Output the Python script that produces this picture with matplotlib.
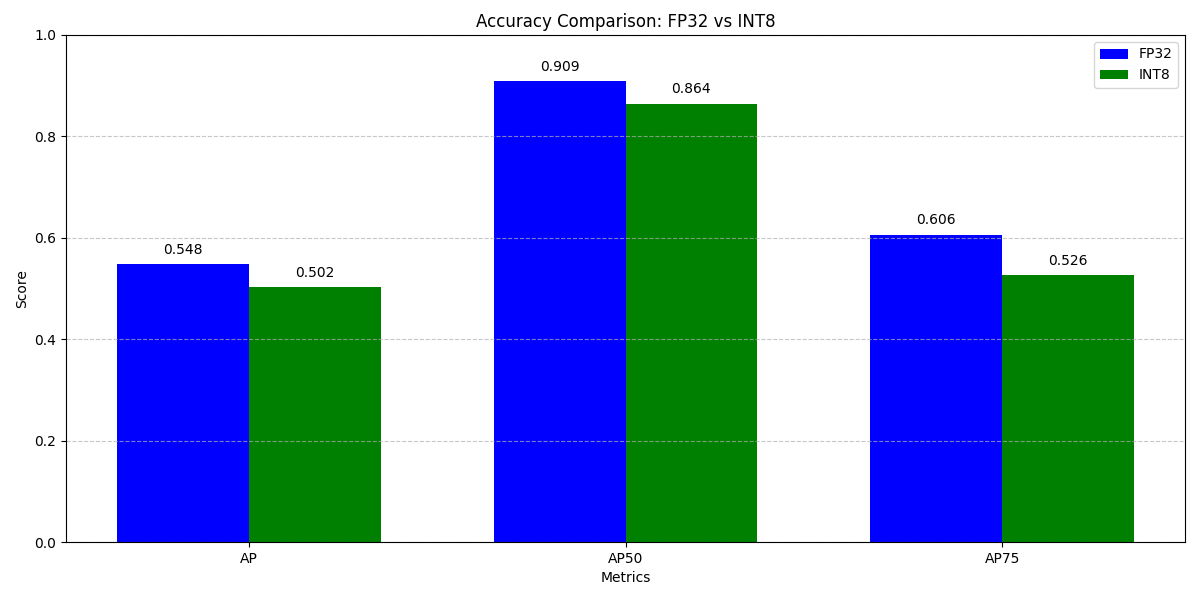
import matplotlib
matplotlib.use("Agg")
import matplotlib.pyplot as plt
import numpy as np

metrics = ["AP", "AP50", "AP75"]
fp32 = [0.548, 0.909, 0.606]
int8 = [0.502, 0.864, 0.526]

fig, ax = plt.subplots(figsize=(12, 6), dpi=100)
x = np.arange(len(metrics))
w = 0.35
b1 = ax.bar(x - w/2, fp32, w, label="FP32", color="blue")
b2 = ax.bar(x + w/2, int8, w, label="INT8", color="green")
for bars, vals in ((b1, fp32), (b2, int8)):
    for b, v in zip(bars, vals):
        ax.text(b.get_x() + b.get_width()/2, v + 0.015, f"{v:.3f}", ha="center", va="bottom")
ax.set_xlabel("Metrics")
ax.set_ylabel("Score")
ax.set_title("Accuracy Comparison: FP32 vs INT8")
ax.set_xticks(x)
ax.set_xticklabels(metrics)
ax.set_ylim(0, 1.0)
ax.legend()
ax.grid(axis="y", linestyle="--", alpha=0.7)
fig.subplots_adjust(left=66/1200, right=1185/1200, top=1-35/600, bottom=1-542/600)
fig.savefig("out.png")
